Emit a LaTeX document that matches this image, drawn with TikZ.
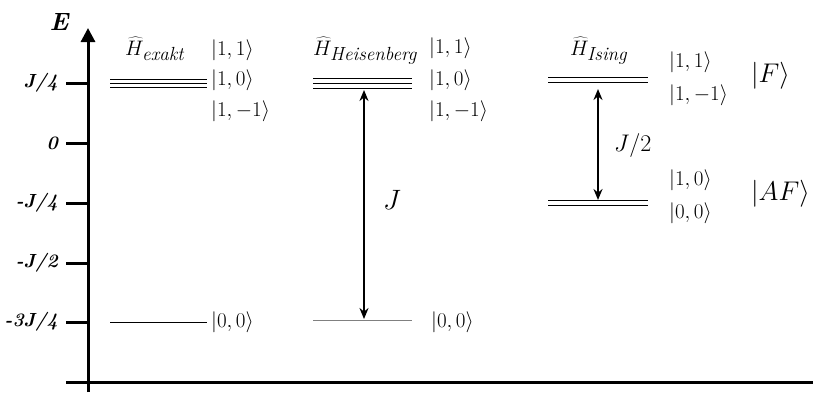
\RequirePackage{fix-cm}
\documentclass[tikz,border=0pt]{standalone}
\usepackage{fontspec}
\usetikzlibrary{arrows.meta}
\newcommand{\hsub}[1]{\mbox{\fontsize{19}{21}\selectfont\itshape #1}}
\begin{document}
\begin{tikzpicture}[x=1pt,y=-1pt,
  axis/.style={line width=3pt},
  tick/.style={line width=3pt},
  lvl/.style={line width=0.9pt},
  ticklab/.style={anchor=east,font=\fontsize{19}{21}\selectfont\bfseries\itshape,inner sep=0pt},
  st/.style={anchor=west,font=\fontsize{21}{23}\selectfont,inner sep=0pt},
  big/.style={anchor=west,font=\fontsize{27}{30}\selectfont,inner sep=0pt},
  ham/.style={anchor=base west,font=\fontsize{21}{23}\selectfont,inner sep=0pt},
  gap/.style={line width=2pt,{Stealth[length=11pt,width=9pt]}-{Stealth[length=11pt,width=9pt]}}]
\useasboundingbox (0,0) rectangle (813,394);
% axes
\coordinate (ybot) at (88,392);
\coordinate (ytop) at (88,28);
\draw[axis,-{Triangle[length=14pt,width=14pt]}] (ybot) -- (ytop);
\coordinate (xl) at (66,382);
\coordinate (xr) at (813,382);
\draw[axis] (xl) -- (xr);
\node[font=\fontsize{25}{27}\selectfont\bfseries\itshape,inner sep=0pt] (E) at (59,22) {E};
% ticks
\foreach \y/\n/\t in {83/t1/{J/4}, 143/t2/{0}, 203/t3/{-J/4}, 263/t4/{-J/2}, 322/t5/{-3J/4}}{
  \coordinate (\n a) at (66,\y);
  \coordinate (\n b) at (88,\y);
  \draw[tick] (\n a) -- (\n b);
  \node[ticklab] (\n l) at (58,\y) {\t};
}
% exakt
\node[ham] (Hex) at (125,55) {$\widehat{H}_{\hsub{exakt}}$};
\foreach \y/\n in {79/a,83/b,87/c}{
  \coordinate (ex\n l) at (110,\y); \coordinate (ex\n r) at (207,\y);
  \draw[lvl] (ex\n l) -- (ex\n r);
}
\coordinate (exdl) at (110,322); \coordinate (exdr) at (207,322);
\draw[lvl] (exdl) -- (exdr);
\node[st] (ex11) at (211,50) {$|1,1\rangle$};
\node[st] (ex10) at (211,80) {$|1,0\rangle$};
\node[st] (ex1m) at (211,111) {$|1,-1\rangle$};
\node[st] (ex00) at (211,322) {$|0,0\rangle$};
% Heisenberg
\node[ham] (Hhe) at (313,55) {$\widehat{H}_{\hsub{Heisenberg}}$};
\foreach \y/\n in {78/a,83/b,88/c}{
  \coordinate (he\n l) at (313,\y); \coordinate (he\n r) at (412,\y);
  \draw[lvl] (he\n l) -- (he\n r);
}
\coordinate (hedl) at (313,320); \coordinate (hedr) at (412,320);
\draw[lvl,gray] (hedl) -- (hedr);
\node[st] (he11) at (429,48) {$|1,1\rangle$};
\node[st] (he10) at (429,80) {$|1,0\rangle$};
\node[st] (he1m) at (429,111) {$|1,-1\rangle$};
\node[st] (he00) at (431,322) {$|0,0\rangle$};
\coordinate (heA) at (364,90); \coordinate (heB) at (364,319);
\draw[gap] (heA) -- (heB);
\node[font=\fontsize{28}{30}\selectfont,inner sep=0pt] (J) at (392,200) {$J$};
% Ising
\node[ham] (His) at (570,55) {$\widehat{H}_{\hsub{Ising}}$};
\foreach \y/\n in {77/a,82/b}{
  \coordinate (is\n l) at (548,\y); \coordinate (is\n r) at (648,\y);
  \draw[lvl] (is\n l) -- (is\n r);
}
\foreach \y/\n in {200/c,205/d}{
  \coordinate (is\n l) at (548,\y); \coordinate (is\n r) at (648,\y);
  \draw[lvl] (is\n l) -- (is\n r);
}
\node[st] (is11) at (669,62) {$|1,1\rangle$};
\node[st] (is1m) at (669,95) {$|1,-1\rangle$};
\node[st] (is10) at (669,180) {$|1,0\rangle$};
\node[st] (is00) at (669,213) {$|0,0\rangle$};
\node[big] (F) at (751,76) {$|F\rangle$};
\node[big] (AF) at (751,194) {$|AF\rangle$};
\coordinate (isA) at (598,89); \coordinate (isB) at (598,200);
\draw[gap] (isA) -- (isB);
\node[anchor=west,font=\fontsize{24}{26}\selectfont,inner sep=0pt] (J2) at (614,145) {$J/2$};
\end{tikzpicture}
\end{document}
